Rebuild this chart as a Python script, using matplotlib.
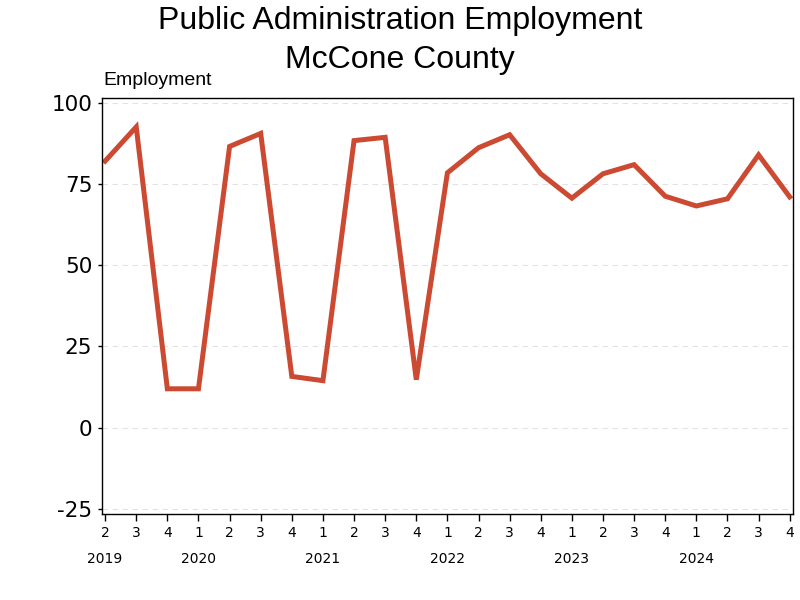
import matplotlib
matplotlib.use("Agg")
import matplotlib.pyplot as plt

quarters = ["2", "3", "4", "1", "2", "3", "4", "1", "2", "3", "4", "1",
            "2", "3", "4", "1", "2", "3", "4", "1", "2", "3", "4"]
years = ["2019", "2020", "2021", "2022", "2023", "2024"]
year_index = [0, 3, 7, 11, 15, 19]
employment = [82, 92.5, 12, 12, 86.5, 90.5, 15.8, 14.5, 88.3, 89.3, 14.8, 78.4,
              86.1, 90.1, 78.1, 70.6, 78.1, 80.9, 71.2, 68.2, 70.4, 83.9, 71]
y_ticks = [-25, 0, 25, 50, 75, 100]

fig = plt.figure(figsize=(8, 6), dpi=100)
ax = fig.add_axes([0.1275, 0.1433, 0.8635, 0.6934])

x = list(range(len(employment)))
ax.plot(x, employment, color="#cc4a32", linewidth=3.6, solid_joinstyle="miter")

ax.set_xlim(-0.1, len(employment) - 0.9)
ax.set_ylim(-26.5, 101.4)
ax.set_yticks(y_ticks)
ax.set_yticklabels([str(v) for v in y_ticks], fontsize=15.5, family="DejaVu Sans")
ax.set_xticks(x)
ax.set_xticklabels(quarters, fontsize=10, family="DejaVu Sans")
ax.tick_params(axis="x", length=5, width=1, pad=3.5)
ax.tick_params(axis="y", length=3, width=1, pad=4)
ax.yaxis.grid(True, color="#e2e2e2", linestyle=(0, (5, 4)), linewidth=0.8)
ax.set_axisbelow(True)
for spine in ax.spines.values():
    spine.set_linewidth(1)

for idx, yr in zip(year_index, years):
    ax.annotate(yr, xy=(idx, 0), xycoords=("data", "axes fraction"),
                xytext=(0, -32.5), textcoords="offset points",
                ha="center", va="center", fontsize=10, family="DejaVu Sans")

fig.text(0.5, 1 - 29 / 600, "Public Administration Employment",
         ha="center", va="baseline", fontsize=23, family="Liberation Sans")
fig.text(0.5, 1 - 68 / 600, "McCone County",
         ha="center", va="baseline", fontsize=23, family="Liberation Sans")
fig.text(103 / 800, 1 - 85 / 600, "Employment", ha="left", va="baseline",
         fontsize=14, family="Liberation Sans")

fig.savefig("out.png", dpi=100)
